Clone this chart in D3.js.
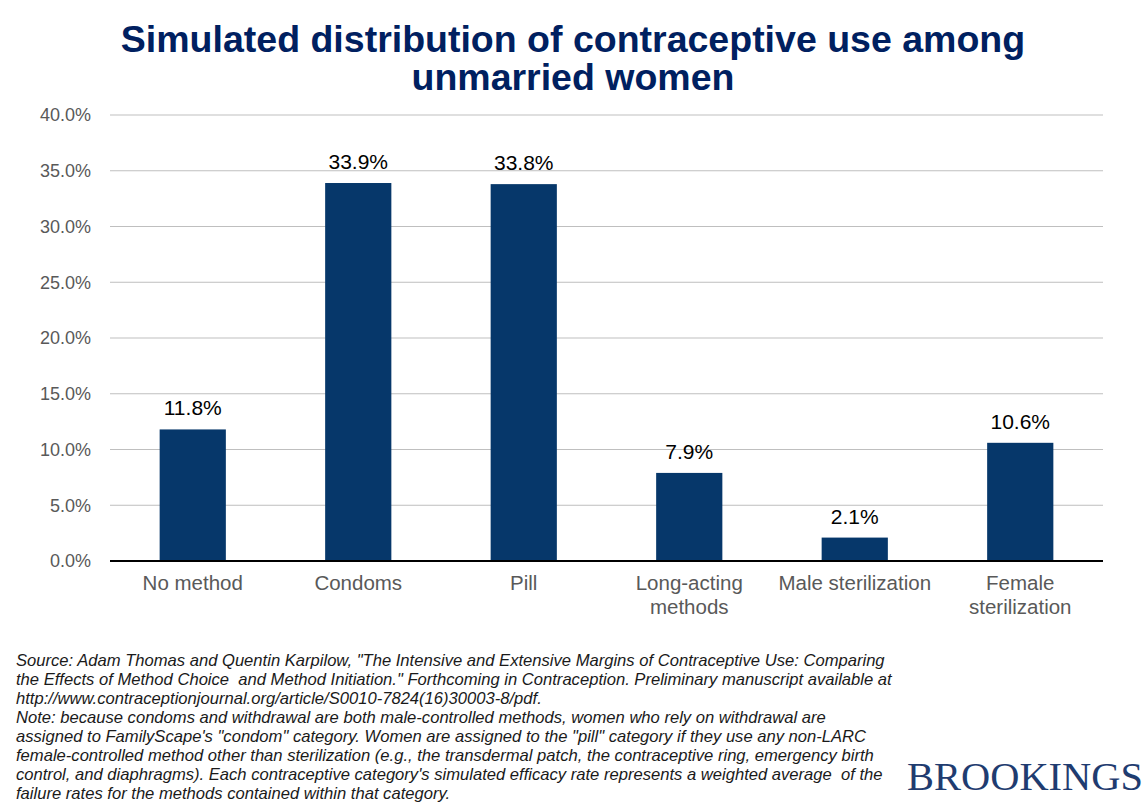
<!DOCTYPE html>
<html>
<head>
<meta charset="utf-8">
<script src="https://cdn.jsdelivr.net/npm/d3@7"></script>
<style>
  body { margin: 0; background: #fff; }
  svg { display: block; }
</style>
</head>
<body>
<svg id="chart"></svg>
<script>
// chart data
var categories = [["No method"], ["Condoms"], ["Pill"], ["Long-acting", "methods"], ["Male sterilization"], ["Female", "sterilization"]];
var shares = [11.8, 33.9, 33.8, 7.9, 2.1, 10.6];
var yTicks = [0, 5, 10, 15, 20, 25, 30, 35, 40];

var titleLines = ["Simulated distribution of contraceptive use among", "unmarried women"];
var noteLines = [
  "Source: Adam Thomas and Quentin Karpilow, \"The Intensive and Extensive Margins of Contraceptive Use: Comparing",
  "the Effects of Method Choice  and Method Initiation.\" Forthcoming in Contraception. Preliminary manuscript available at",
  "http://www.contraceptionjournal.org/article/S0010-7824(16)30003-8/pdf.",
  "Note: because condoms and withdrawal are both male-controlled methods, women who rely on withdrawal are",
  "assigned to FamilyScape's \"condom\" category. Women are assigned to the \"pill\" category if they use any non-LARC",
  "female-controlled method other than sterilization (e.g., the transdermal patch, the contraceptive ring, emergency birth",
  "control, and diaphragms). Each contraceptive category's simulated efficacy rate represents a weighted average  of the",
  "failure rates for the methods contained within that category."
];

var W = 1146, H = 807;
var margin = {top: 115, right: 43, bottom: 246, left: 110};

var svg = d3.select("#chart")
    .attr("width", W)
    .attr("height", H);

var x = d3.scaleBand()
    .domain(d3.range(shares.length))
    .range([margin.left, W - margin.right])
    .paddingInner(0.6)
    .paddingOuter(0.3);

var y = d3.scaleLinear()
    .domain([0, 40])
    .range([H - margin.bottom, margin.top]);

// title
svg.append("g").selectAll("text")
    .data(titleLines)
  .enter().append("text")
    .attr("x", 573)
    .attr("y", function(d, i) { return 52 + i * 38; })
    .attr("text-anchor", "middle")
    .attr("font-family", "Liberation Sans, Arial, sans-serif")
    .attr("font-weight", "bold")
    .attr("font-size", 37.5)
    .attr("fill", "#002060")
    .text(function(d) { return d; });

// gridlines
svg.append("g").selectAll("line")
    .data(yTicks.slice(1))
  .enter().append("line")
    .attr("x1", margin.left)
    .attr("x2", W - margin.right)
    .attr("y1", function(d) { return y(d); })
    .attr("y2", function(d) { return y(d); })
    .attr("stroke", "#bfbfbf")
    .attr("stroke-width", 1);

// y tick labels
svg.append("g").selectAll("text")
    .data(yTicks)
  .enter().append("text")
    .attr("x", 91)
    .attr("y", function(d) { return y(d); })
    .attr("dy", "0.35em")
    .attr("text-anchor", "end")
    .attr("font-family", "Liberation Sans, Arial, sans-serif")
    .attr("font-size", 18)
    .attr("fill", "#595959")
    .text(function(d) { return d.toFixed(1) + "%"; });

// bars
svg.append("g").selectAll("rect")
    .data(shares)
  .enter().append("rect")
    .attr("x", function(d, i) { return x(i); })
    .attr("y", function(d) { return y(d); })
    .attr("width", x.bandwidth())
    .attr("height", function(d) { return y(0) - y(d); })
    .attr("fill", "#06376a");

// value labels
svg.append("g").selectAll("text")
    .data(shares)
  .enter().append("text")
    .attr("x", function(d, i) { return x(i) + x.bandwidth() / 2; })
    .attr("y", function(d) { return y(d) - 14; })
    .attr("text-anchor", "middle")
    .attr("font-family", "Liberation Sans, Arial, sans-serif")
    .attr("font-size", 21)
    .attr("fill", "#000")
    .text(function(d) { return d.toFixed(1) + "%"; });

// baseline
svg.append("line")
    .attr("x1", margin.left)
    .attr("x2", W - margin.right)
    .attr("y1", y(0))
    .attr("y2", y(0))
    .attr("stroke", "#000")
    .attr("stroke-width", 2);

// category labels
var cat = svg.append("g").selectAll("text")
    .data(categories)
  .enter().append("text")
    .attr("x", function(d, i) { return x(i) + x.bandwidth() / 2; })
    .attr("y", 590)
    .attr("text-anchor", "middle")
    .attr("font-family", "Liberation Sans, Arial, sans-serif")
    .attr("font-size", 20.5)
    .attr("fill", "#595959");

cat.selectAll("tspan")
    .data(function(d) { return d; })
  .enter().append("tspan")
    .attr("x", function() { return d3.select(this.parentNode).attr("x"); })
    .attr("dy", function(d, i) { return i ? 24 : 0; })
    .text(function(d) { return d; });

// footnote (keep the double spaces of the original)
svg.append("g").selectAll("text")
    .data(noteLines)
  .enter().append("text")
    .attr("x", 16)
    .attr("y", function(d, i) { return 666 + i * 19; })
    .attr("font-family", "Liberation Sans, Arial, sans-serif")
    .attr("font-style", "italic")
    .attr("font-size", 16.6)
    .attr("fill", "#1a1a1a")
    .style("white-space", "pre")
    .text(function(d) { return d; });

// logo
svg.append("text")
    .attr("x", 907)
    .attr("y", 790)
    .attr("font-family", "Liberation Serif, Times New Roman, serif")
    .attr("font-size", 41)
    .attr("fill", "#1f3c70")
    .attr("textLength", 236)
    .attr("lengthAdjust", "spacingAndGlyphs")
    .text("BROOKINGS");
</script>
</body>
</html>
